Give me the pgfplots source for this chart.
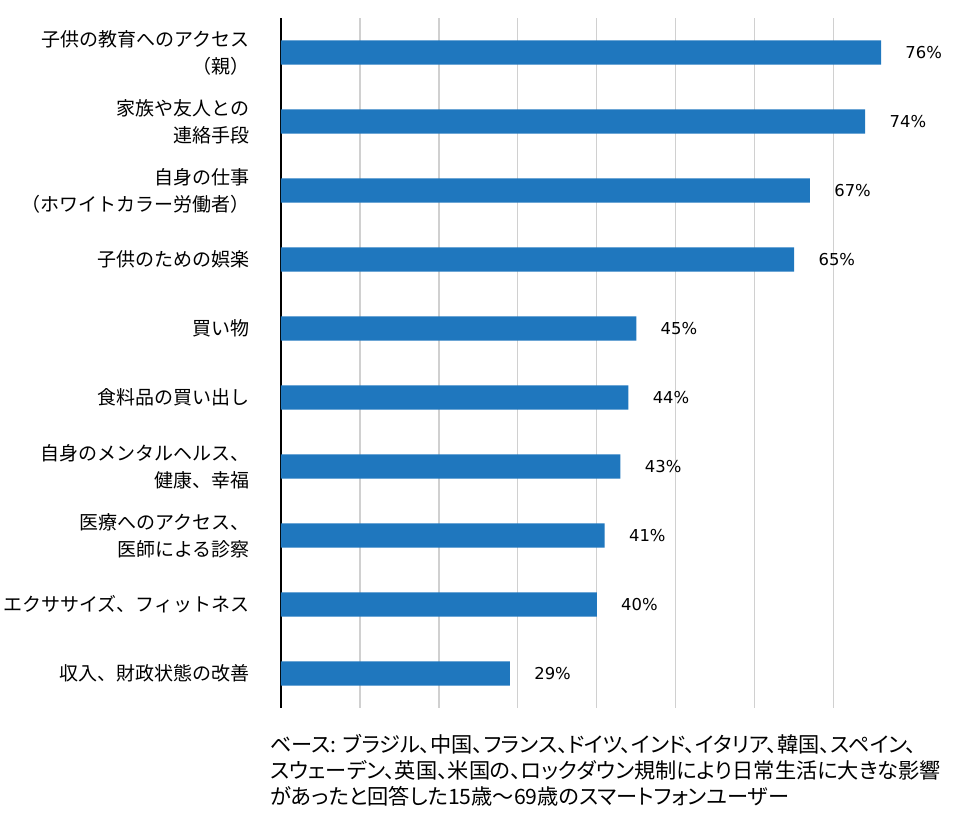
\documentclass[border=0pt]{standalone}
\usepackage{pgfplots}
\pgfplotsset{compat=1.18}
\usepackage{pgfplotstable}
\usepackage{fontspec}
\setmainfont{Noto Sans CJK JP}
\newfontfamily\pctfont{DejaVu Sans}
\newfontfamily\notefont[RawFeature=+palt]{Noto Sans CJK JP}
\definecolor{barblue}{HTML}{1F77BE}
\definecolor{gridgray}{HTML}{D0D0D0}

\pgfplotstableread{
idx val
0 76
1 74
2 67
3 65
4 45
5 44
6 43
7 41
8 40
9 29
}\datatable

\begin{document}
\begin{tikzpicture}
\path[use as bounding box] (-140.5pt,-54pt) rectangle (339.5pt,354pt);
\begin{axis}[
    at={(0,0)}, anchor=south west,
    scale only axis,
    width=339.5pt, height=345pt,
    xbar, bar width=0.35,
    xmin=0, xmax=86,
    ymin=-0.5, ymax=9.5,
    y dir=reverse,
    xtick={10,20,...,70},
    xticklabels={},
    xmajorgrids=true,
    grid style={gridgray, line width=0.6pt},
    extra x ticks={0},
    extra x tick labels={},
    extra x tick style={grid style={black, line width=0.7pt}},
    major tick length=0pt,
    axis line style={draw=none},
    ytick={0,...,9},
    yticklabels={
        {子供の教育へのアクセス\\（親）},
        {家族や友人との\\連絡手段},
        {自身の仕事\\（ホワイトカラー労働者）},
        {子供のための娯楽},
        {買い物},
        {食料品の買い出し},
        {自身のメンタルヘルス、\\健康、幸福},
        {医療へのアクセス、\\医師による診察},
        {エクササイズ、フィットネス},
        {収入、財政状態の改善}
    },
    yticklabel style={align=right, inner sep=0pt, xshift=-15.5pt,
        font=\fontsize{9.5pt}{13.5pt}\selectfont},
    point meta=x,
    nodes near coords={\pgfmathprintnumber[assume math mode=true]{\pgfplotspointmeta}\%},
    nodes near coords style={font=\pctfont\fontsize{8.2pt}{9.8pt}\selectfont,
        anchor=west, inner sep=0pt, xshift=12pt, text=black},
]
\addplot[fill=barblue, draw=none] table[x=val, y=idx] {\datatable};
\end{axis}
\node[anchor=north west, align=left, inner sep=0pt,
    font=\notefont\fontsize{10.6pt}{13pt}\selectfont]
    at (-5.5pt,-13pt)
    {ベース: ブラジル、中国、フランス、ドイツ、インド、イタリア、韓国、スペイン、\\
     スウェーデン、英国、米国の、ロックダウン規制により日常生活に大きな影響\\
     があったと回答した15歳〜69歳のスマートフォンユーザー};
\end{tikzpicture}
\end{document}
